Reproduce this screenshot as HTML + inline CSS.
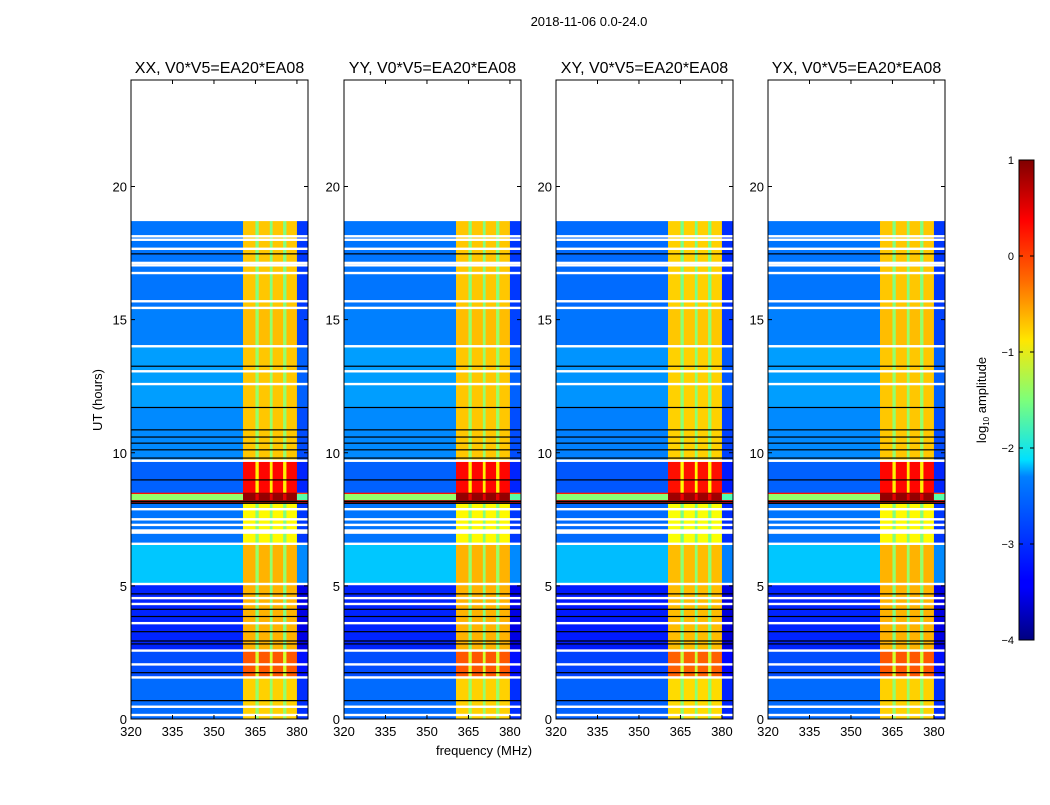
<!DOCTYPE html>
<html><head><meta charset="utf-8"><style>
body{margin:0;background:#fff;width:1050px;height:800px;overflow:hidden;font-family:"Liberation Sans",sans-serif}
svg text{font-family:"Liberation Sans",sans-serif}
</style></head><body>
<svg id="fig" width="1050" height="800" xmlns="http://www.w3.org/2000/svg">
<defs>
<linearGradient id="jet" x1="0" y1="1" x2="0" y2="0">
<stop offset="0" stop-color="#000080"/><stop offset="0.11" stop-color="#0000ff"/>
<stop offset="0.125" stop-color="#0000ff"/><stop offset="0.34" stop-color="#0080ff"/>
<stop offset="0.375" stop-color="#00e0ff"/><stop offset="0.5" stop-color="#7dff7a"/>
<stop offset="0.625" stop-color="#ffe600"/><stop offset="0.75" stop-color="#ff6a00"/>
<stop offset="0.875" stop-color="#ff0000"/><stop offset="1" stop-color="#800000"/>
</linearGradient>
</defs>
<text x="589" y="26" font-size="13" text-anchor="middle">2018-11-06 0.0-24.0</text>
<text x="484" y="755" font-size="13" text-anchor="middle">frequency (MHz)</text>
<text transform="translate(102,400) rotate(-90)" font-size="13" text-anchor="middle">UT (hours)</text>
<g id="panels"></g>
<g id="cbar"></g>
</svg>
<script>
// ---- data ----
const panelTitles = ["XX, V0*V5=EA20*EA08","YY, V0*V5=EA20*EA08","XY, V0*V5=EA20*EA08","YX, V0*V5=EA20*EA08"];
const panelOffsets = [0, 0.0, -0.05, 0.0];
const xTicks = [320,335,350,365,380];
const yTicks = [0,5,10,15,20];
const cbarTicks = [-4,-3,-2,-1,0,1];
// time segments: start hour, end hour
const segStart = [15.5,14.0,11.7,9.7,8.5,8.45,8.22,8.12,6.6,5.07,2.6,1.6,0];
const segEnd   = [18.7,15.5,14.0,11.7,9.7,8.5,8.45,8.22,8.12,6.6,5.07,2.6,1.6];
// log10 amplitude levels per segment
const segBg     = [-2.8,-2.75,-2.6,-2.7,-2.9,0.3,-1.4,0.8,-2.8,-2.4,-3.2,-3.0,-2.85];
const segBand   = [-0.6,-0.55,-0.6,-0.6,0.35,0.9,0.9,0.9,-0.85,-0.5,-0.5,-0.05,-0.65];
const segStripe = [-1.5,-1.4,-1.4,-1.4,-0.8,0.9,0.5,0.9,-1.5,-1.4,-1.5,-1.1,-1.4];
// frequency channel groups (MHz) and type
const chanStart = [320,360.5,365,366.2,370.2,371.2,375,376.2,380];
const chanEnd   = [360.5,365,366.2,370.2,371.2,375,376.2,380,384];
const chanType  = ["bg","band","stripe","band","stripe","band","stripe","band","edge"];
// flagged (white) gaps and dark lines, hours
const whiteGaps = [18.13,18.0,17.66,17.13,17.04,16.75,15.69,15.44,14.0,13.06,12.58,9.7,7.88,7.5,7.29,7.08,7.0,6.58,5.07,4.54,4.32,3.6,2.57,2.05,1.56,0.46,0.15];
const darkLines = [17.47,13.25,11.7,10.86,10.59,10.36,10.11,9.8,8.98,8.17,8.1,4.7,4.12,3.85,3.28,2.93,2.82,1.74,0.69];

// ---- helpers ----
const NS="http://www.w3.org/2000/svg";
function jet(v){ // v in log10, range -4..1
  let t=(v+4)/5; t=Math.max(0,Math.min(1,t));
  const r=Math.max(0,Math.min(1,1.5-Math.abs(4*t-3)));
  const g=Math.max(0,Math.min(1,1.5-Math.abs(4*t-2)));
  const b=Math.max(0,Math.min(1,1.5-Math.abs(4*t-1)));
  return `rgb(${Math.round(r*255)},${Math.round(g*255)},${Math.round(b*255)})`;
}
function mk(tag,attrs,parent){const e=document.createElementNS(NS,tag);for(const k in attrs)e.setAttribute(k,attrs[k]);parent.appendChild(e);return e;}
const panelsG=document.getElementById('panels');
const panelX=[131,344,556,768], PW=177, PT=80, PB=719;
const F0=320,F1=384,T0=0,T1=24;

panelTitles.forEach((title,p)=>{
  const x0=panelX[p];
  const xs=f=>x0+(f-F0)/(F1-F0)*PW;
  const ys=t=>PB-(t-T0)/(T1-T0)*(PB-PT);
  const g=mk('g',{},panelsG);
  
  
  for(let s=0;s<segStart.length;s++){
    for(let c=0;c<chanStart.length;c++){
      const ty=chanType[c];
      let v = ty==="band"?segBand[s]:ty==="stripe"?segStripe[s]:ty==="edge"?segBg[s]-0.3:segBg[s];
      v+=panelOffsets[p];
      const r=mk('rect',{x:xs(chanStart[c]).toFixed(2),y:ys(segEnd[s]).toFixed(2),width:(xs(chanEnd[c])-xs(chanStart[c])+0.3).toFixed(2),height:(ys(segStart[s])-ys(segEnd[s])+0.3).toFixed(2),fill:jet(v)},g);
      
      
    }
  }
  whiteGaps.forEach(h=>{
    const r=mk('rect',{x:x0,y:(ys(h)-1.2).toFixed(2),width:PW,height:2.4,fill:'#fff'},g);
    
    
  });
  darkLines.forEach(h=>{
    const r=mk('rect',{x:x0,y:(ys(h)-0.6).toFixed(2),width:PW,height:1.2,fill:'#000'},g);
    
    
  });
  const fr=mk('rect',{x:x0,y:PT,width:PW,height:PB-PT,fill:'none',stroke:'#000','stroke-width':1},g);
  
  
  const tt=mk('text',{x:x0+PW/2,y:73,'font-size':16,'text-anchor':'middle'},g);
  tt.textContent=title;
  
  
  xTicks.forEach(f=>{
    const X=xs(f);
    mk('line',{x1:X,x2:X,y1:PB,y2:PB-4,stroke:'#000'},g);
    mk('line',{x1:X,x2:X,y1:PT,y2:PT+4,stroke:'#000'},g);
    const t=mk('text',{x:X,y:PB+17,'font-size':13,'text-anchor':'middle'},g);
    t.textContent=f;
    
    
  });
  yTicks.forEach(h=>{
    const Y=ys(h);
    mk('line',{x1:x0,x2:x0+4,y1:Y,y2:Y,stroke:'#000'},g);
    mk('line',{x1:x0+PW,x2:x0+PW-4,y1:Y,y2:Y,stroke:'#000'},g);
    const t=mk('text',{x:x0-4,y:Y+5,'font-size':13,'text-anchor':'end'},g);
    t.textContent=h;
    
    
  });
});
// colorbar
const cb=document.getElementById('cbar');
const CX=1019,CW=15,CT=160,CB=640;
const cys=v=>CB-(v+4)/5*(CB-CT);
mk('rect',{x:CX,y:CT,width:CW,height:CB-CT,fill:'url(#jet)',stroke:'#000'},cb);
cbarTicks.forEach(v=>{
  const Y=cys(v);
  mk('line',{x1:CX,x2:CX+4,y1:Y,y2:Y,stroke:'#000'},cb);
  mk('line',{x1:CX+CW,x2:CX+CW-4,y1:Y,y2:Y,stroke:'#000'},cb);
  const t=mk('text',{x:CX-5,y:Y+4,'font-size':11,'text-anchor':'end'},cb);
  t.textContent=v<0?'\u2212'+(-v):v;
  
  
});
const ct=mk('text',{transform:'translate(986,400) rotate(-90)','font-size':13,'text-anchor':'middle'},cb);
ct.innerHTML='log<tspan font-size="8" dy="3">10</tspan><tspan dy="-3"> amplitude</tspan>';


</script>
</body></html>
